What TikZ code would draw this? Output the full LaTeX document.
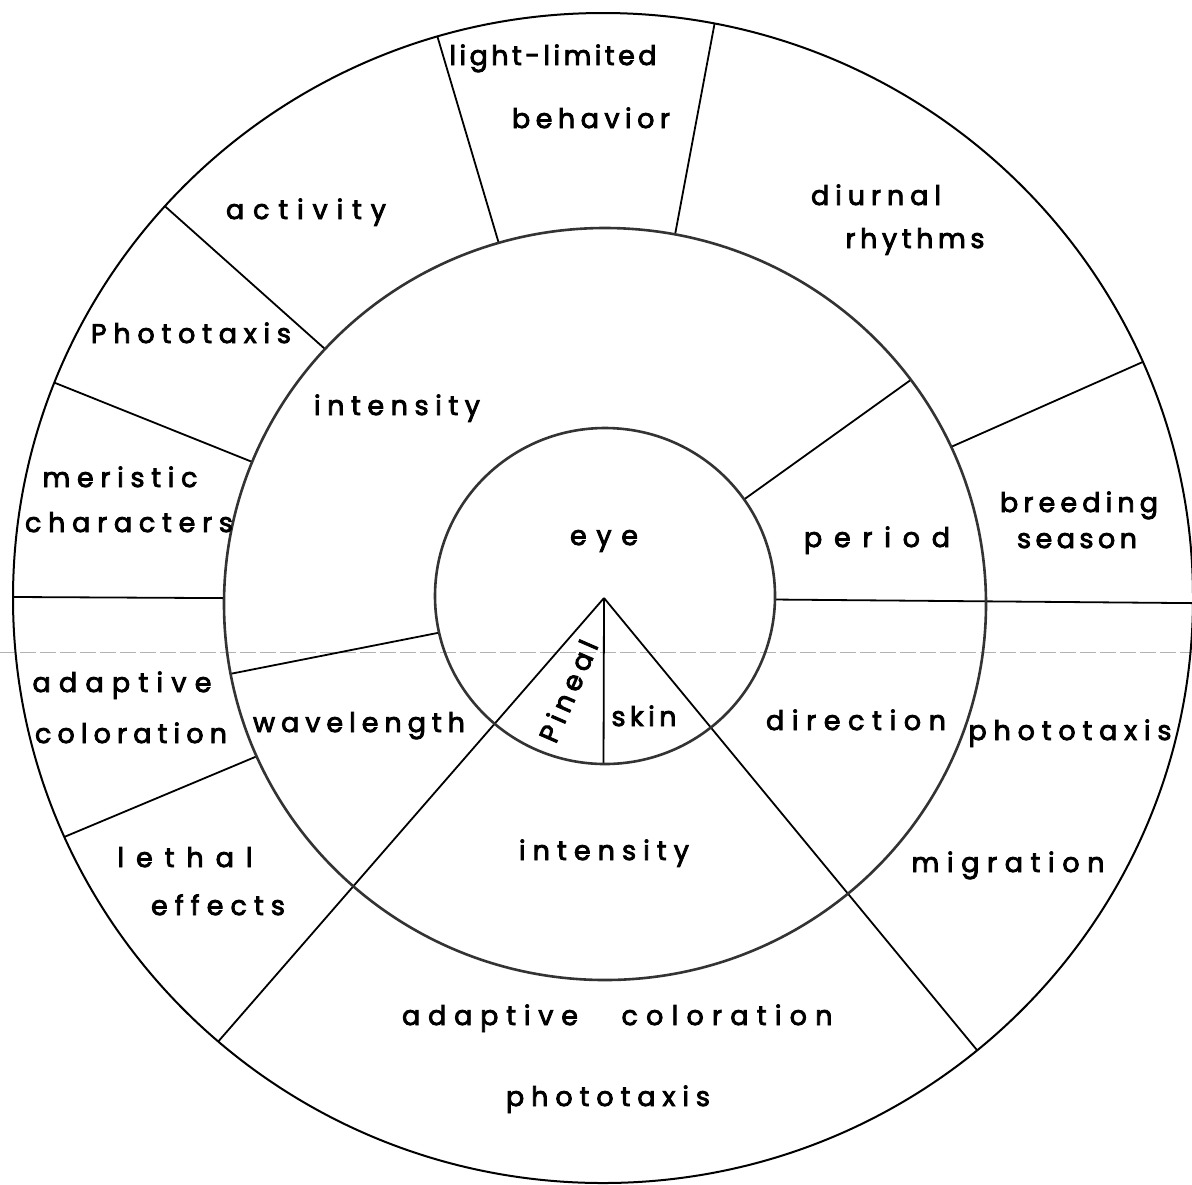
\documentclass[tikz,border=0pt]{standalone}
\usepackage{fontspec}
\usetikzlibrary{calc}
\newfontfamily\lblfont{Poppins}[FakeBold=3]
\let\spend\relax
\def\spfirst#1{#1\sprest}
\def\sprest#1{\ifx#1\spend\else\hfill#1\expandafter\sprest\fi}
\newcommand\spread[2]{\makebox[#2]{\spfirst#1\spend}}
\begin{document}
\begin{tikzpicture}[x=0.5pt,y=-0.5pt,
  ring/.style={draw=black!80, line width=1.3pt},
  rim/.style={draw=black, line width=1pt},
  divider/.style={draw=black, line width=0.9pt},
  fold/.style={draw=black!30, line width=0.4pt, dash pattern=on 8pt off 2pt},
  lbl/.style={anchor=base, inner sep=0pt, font=\lblfont\fontsize{13.5pt}{15pt}\selectfont}]
\useasboundingbox (0,0) rectangle (1192,1184);
\fill[white] (0,0) rectangle (1192,1184);

% centres
\coordinate (C1) at (605,596);
\coordinate (C2) at (605,604);
\coordinate (C3) at (603,598);
\coordinate (apex) at (604,598);

% fold line of the scan
\coordinate (foldL) at (0,652);
\coordinate (foldR) at (1192,652);
\draw[fold] (foldL) -- (foldR);

% divider end points
\coordinate (L1i) at ($(C2)+(-106.2:381 and 376)$);
\coordinate (L1o) at ($(C3)+(-106.3:590 and 585)$);
\coordinate (L2i) at ($(C2)+(-79.4:381 and 376)$);
\coordinate (L2o) at ($(C3)+(-79.1:590 and 585)$);
\coordinate (L3i) at ($(C2)+(-24.7:381 and 376)$);
\coordinate (L3o) at ($(C3)+(-23.8:590 and 585)$);
\coordinate (L4i) at ($(C1)+(-35.1:170 and 168)$);
\coordinate (L4o) at ($(C2)+(-36.6:381 and 376)$);
\coordinate (L5i) at ($(C1)+(1.2:170 and 168)$);
\coordinate (L5o) at ($(C3)+(0.5:590 and 585)$);
\coordinate (L6i) at ($(C2)+(180.9:381 and 376)$);
\coordinate (L6o) at ($(C3)+(180.1:590 and 585)$);
\coordinate (L7i) at ($(C2)+(-157.8:381 and 376)$);
\coordinate (L7o) at ($(C3)+(-158.4:590 and 585)$);
\coordinate (L8i) at ($(C2)+(-137.3:381 and 376)$);
\coordinate (L8o) at ($(C3)+(-137.95:590 and 585)$);
\coordinate (L9i) at ($(C1)+(167.4:170 and 168)$);
\coordinate (L9o) at ($(C2)+(169.3:381 and 376)$);
\coordinate (L10i) at ($(C2)+(156.1:381 and 376)$);
\coordinate (L10o) at ($(C3)+(155.9:590 and 585)$);
\coordinate (Pl) at ($(C3)+(130.7:590 and 585)$);
\coordinate (Pr) at ($(C3)+(50.64:590 and 585)$);
\coordinate (Pv) at ($(C1)+(90.5:170 and 168)$);

% dividers
\draw[divider] (L1i) -- (L1o);
\draw[divider] (L2i) -- (L2o);
\draw[divider] (L3i) -- (L3o);
\draw[divider] (L4i) -- (L4o);
\draw[divider] (L5i) -- (L5o);
\draw[divider] (L6i) -- (L6o);
\draw[divider] (L7i) -- (L7o);
\draw[divider] (L8i) -- (L8o);
\draw[divider] (L9i) -- (L9o);
\draw[divider] (L10i) -- (L10o);
\draw[divider] (apex) -- (Pl);
\draw[divider] (apex) -- (Pr);
\draw[divider] (apex) -- (Pv);

% rings
\draw[rim] (C3) ellipse [x radius=590, y radius=585];
\draw[ring] (C2) ellipse [x radius=381, y radius=376];
\draw[ring] (C1) ellipse [x radius=170, y radius=168];

% labels
\node[lbl] (t1)  at (553,65)   {\spread{light-limited}{103.5pt}};
\node[lbl] (t2)  at (591,128)  {\spread{behavior}{79pt}};
\node[lbl] (t3)  at (306,219)  {\spread{activity}{80pt}};
\node[lbl] (t4)  at (876,205)  {\spread{diurnal}{65pt}};
\node[lbl] (t5)  at (915,248)  {\spread{rhythms}{69.5pt}};
\node[lbl] (t6)  at (191,343)  {\spread{Phototaxis}{100pt}};
\node[lbl] (t7)  at (397,415)  {\spread{intensity}{83pt}};
\node[lbl] (t8)  at (120,487)  {\spread{meristic}{77.5pt}};
\node[lbl] (t9)  at (129,532)  {\spread{characters}{104pt}};
\node[lbl] (t10) at (604,545)  {\spread{eye}{34pt}};
\node[lbl] (t11) at (877,547)  {\spread{period}{73pt}};
\node[lbl] (t12) at (1079,512) {\spread{breeding}{79pt}};
\node[lbl] (t13) at (1077,548) {\spread{season}{60pt}};
\node[lbl] (t14) at (122,692)  {\spread{adaptive}{89.5pt}};
\node[lbl] (t15) at (131,743)  {\spread{coloration}{96pt}};
\node[lbl] (t16) at (359,732)  {\spread{wavelength}{106pt}};
\node[lbl] (t17) at (644,726)  {\spread{skin}{32.5pt}};
\node[lbl] (t18) at (856,730)  {\spread{direction}{90pt}};
\node[lbl] (t19) at (1070,740) {\spread{phototaxis}{101.5pt}};
\node[lbl] (t20) at (604,860)  {\spread{intensity}{85pt}};
\node[lbl] (t21) at (185,867)  {\spread{lethal}{67.5pt}};
\node[lbl] (t22) at (218,915)  {\spread{effects}{67pt}};
\node[lbl] (t23) at (1008,872) {\spread{migration}{96.5pt}};
\node[lbl] (t24) at (490,1025) {\spread{adaptive}{88pt}};
\node[lbl] (t25) at (727,1025) {\spread{coloration}{105.5pt}};
\node[lbl] (t26) at (608,1106) {\spread{phototaxis}{102pt}};
\node[lbl, anchor=center, rotate=66.5] (t27) at (568,691) {\spread{Pineal}{54pt}};
\end{tikzpicture}
\end{document}
